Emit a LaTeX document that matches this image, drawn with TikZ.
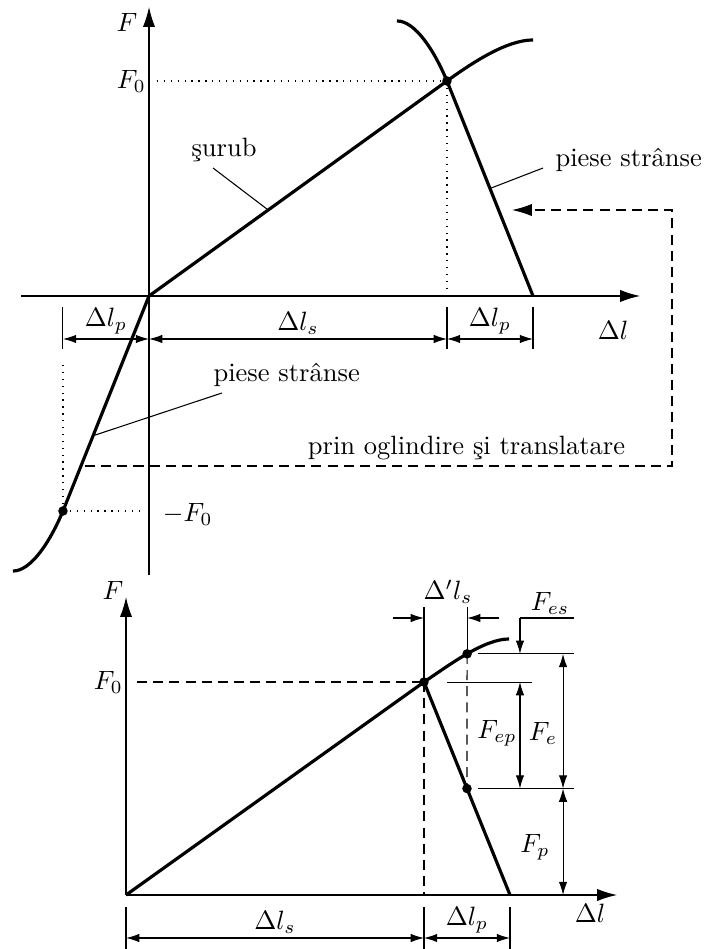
\documentclass[tikz,border=0pt]{standalone}
\usetikzlibrary{arrows.meta,calc}
\tikzset{
  axis/.style={line width=0.45pt, -{Latex[length=7.5pt,width=4.6pt]}},
  curve/.style={line width=1.2pt},
  thinline/.style={line width=0.4pt},
  dimline/.style={line width=0.4pt, {Latex[length=5pt,width=3.2pt]}-{Latex[length=5pt,width=3.2pt]}},
  dimtip/.style={line width=0.4pt, -{Latex[length=5pt,width=3.2pt]}},
  dimlabel/.style={above, inner sep=1.5pt},
  dotline/.style={line width=0.5pt, dash pattern=on 0.5pt off 2.1pt},
  dashline/.style={line width=0.45pt, dash pattern=on 3.8pt off 2.3pt},
}
\begin{document}
\begin{tikzpicture}
    \useasboundingbox (-1.976,-8.659) rectangle (7.359,3.925);

    %% top diagram: screw and clamped parts
    \coordinate (O) at (0,0);
    \coordinate (P) at (3.951,2.851);
    \coordinate (B) at (5.092,0);
    \coordinate (M) at (-1.141,-2.851);
    \draw[axis] (-1.697,0) -- (6.511,0);
    \draw[axis] (0,-3.700) -- (0,3.832);
    \node (Ftop) at (-0.292,3.633) {$F$};
    \node[left, inner sep=1pt] (F0top) at (0,2.851) {$F_0$};
    \node (dltop) at (6.153,-0.451) {$\Delta l$};

    \draw[curve] (O) -- (P) .. controls (4.30,3.104) and (4.75,3.395) .. (5.092,3.395);
    \draw[curve] (B) -- (P) .. controls (3.779,3.262) and (3.527,3.647) .. (3.288,3.647);
    \draw[curve] (O) -- (M) .. controls (-1.313,-3.262) and (-1.565,-3.647) .. (-1.804,-3.647);
    \fill (P) circle (1.8pt) (M) circle (1.8pt);

    \draw[dotline] (0.106,2.851) -- (P);
    \draw[dotline] (P) -- (3.951,0.08);
    \draw[dotline] (M) -- (-0.08,-2.851);
    \draw[dotline] (M) -- (-1.141,-0.85);
    \node[anchor=west] (mF0) at (0.06,-2.90) {$-F_0$};

    %% labels with leaders
    \node (surub) at (0.995,1.936) {şurub};
    \draw[thinline] (0.849,1.697) -- ($(O)!0.4!(P)$);
    \node[anchor=west] (piese1) at (5.267,1.803) {piese strânse};
    \draw[thinline] (5.224,1.697) -- ($(B)!0.5!(P)$);
    \node[anchor=west] (piese2) at (0.732,-1.048) {piese strânse};
    \draw[thinline] (0.968,-1.286) -- ($(O)!0.65!(M)$);

    %% mirror path
    \draw[dashline, -{Latex[length=7.5pt,width=4.6pt]}] (-0.849,-2.254) -- (6.935,-2.254)
      -- (6.935,1.140) -- (4.813,1.140);
    \node (mirror) at (4.21,-2.02) {prin oglindire şi translatare};

    %% dimensions
    \foreach \x in {-1.141,3.951,5.092} \draw[thinline] (\x,-0.146) -- (\x,-0.703);
    \draw[dimline] (-1.141,-0.570) -- node[dimlabel] (dlp1) {$\Delta l_p$} (0,-0.570);
    \draw[dimline] (0,-0.570) -- node[dimlabel] (dls1) {$\Delta l_s$} (3.951,-0.570);
    \draw[dimline] (3.951,-0.570) -- node[dimlabel] (dlp2) {$\Delta l_p$} (5.092,-0.570);

    %% bottom diagram: external load
    \begin{scope}[shift={(-0.305,-7.943)}]
      \coordinate (O2) at (0,0);
      \coordinate (P2) at (3.951,2.824);
      \coordinate (B2) at (5.092,0);
      \coordinate (S) at (4.523,3.198);
      \coordinate (Q) at ($(B2)!0.5!(P2)$);
      \draw[axis] (O2) -- (6.511,0);
      \draw[axis] (O2) -- (0,3.951);
      \node (Fbot) at (-0.172,4.044) {$F$};
      \node[left, inner sep=1pt] (F0bot) at (0,2.824) {$F_0$};
      \node (dlbot) at (6.153,-0.239) {$\Delta l$};

      \draw[curve] (O2) -- (P2) .. controls (4.30,3.06) and (4.75,3.395) .. (5.079,3.395);
      \draw[curve] (B2) -- (P2);
      \fill (P2) circle (1.8pt) (S) circle (1.8pt) (Q) circle (1.8pt);

      \draw[dashline] (0.146,2.824) -- (P2);
      \draw[dashline] (P2) -- (O2 -| P2);
      \draw[dashline] (S) -- (Q);

      %% extension lines
      \draw[thinline] (3.951,3.819) -- (P2);
      \draw[thinline] (4.523,3.819) -- (4.523,3.26);
      \draw[thinline] (5.224,3.673) -- (5.941,3.673);
      \draw[thinline] (4.668,3.198) -- (5.941,3.198);
      \draw[thinline] (4.257,2.824) -- (5.384,2.824);
      \draw[thinline] (4.668,1.412) -- (5.941,1.412);

      \draw[dimtip] (3.540,3.673) -- (3.951,3.673);
      \draw[dimtip] (4.946,3.673) -- (4.523,3.673);
      \node (dpls) at (4.270,4.018) {$\Delta' l_s$};
      \draw[dimtip] (5.224,3.673) -- (5.224,3.198);
      \node (Fes) at (5.622,3.872) {$F_{es}$};
      \draw[dimline] (5.224,2.824) -- (5.224,1.412);
      \node (Fep) at (4.920,2.148) {$F_{ep}$};
      \draw[dimline] (5.795,3.198) -- (5.795,1.412);
      \node (Fe) at (5.529,2.148) {$F_e$};
      \draw[dimline] (5.795,1.412) -- (5.795,0);
      \node (Fp) at (5.423,0.636) {$F_p$};

      \foreach \x in {0,3.951,5.092} \draw[thinline] (\x,-0.159) -- (\x,-0.716);
      \draw[dimline] (0,-0.570) -- node[dimlabel] (dls2) {$\Delta l_s$} (3.951,-0.570);
      \draw[dimline] (3.951,-0.570) -- node[dimlabel] (dlp3) {$\Delta l_p$} (5.092,-0.570);
    \end{scope}
\end{tikzpicture}
\end{document}
